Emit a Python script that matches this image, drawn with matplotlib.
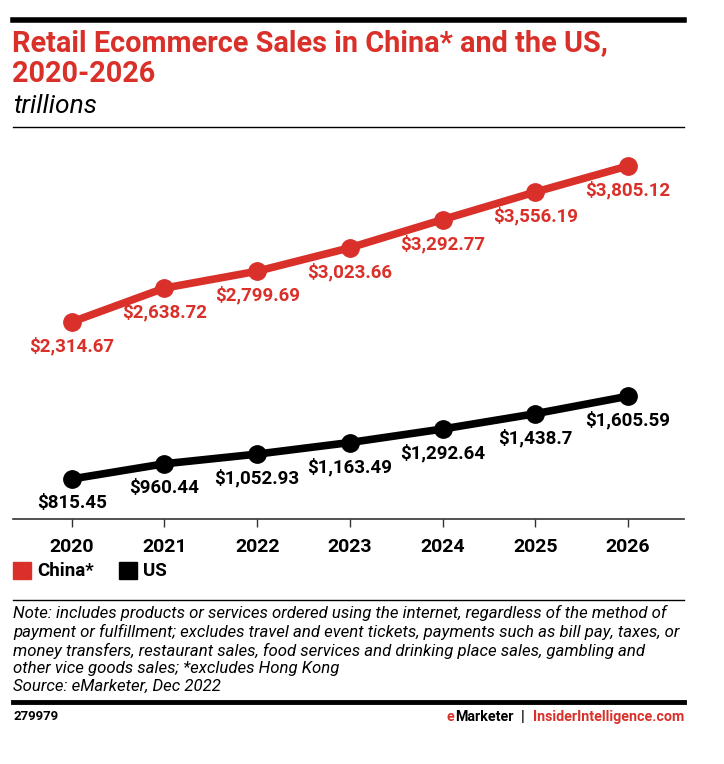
import matplotlib.pyplot as plt
from matplotlib.lines import Line2D
from matplotlib.patches import Rectangle

# данные
years = [2020, 2021, 2022, 2023, 2024, 2025, 2026]
china = [2314.67, 2638.72, 2799.69, 3023.66, 3292.77, 3556.19, 3805.12]
us = [815.45, 960.44, 1052.93, 1163.49, 1292.64, 1438.7, 1605.59]
china_labels = ['$2,314.67', '$2,638.72', '$2,799.69', '$3,023.66', '$3,292.77', '$3,556.19', '$3,805.12']
us_labels = ['$815.45', '$960.44', '$1,052.93', '$1,163.49', '$1,292.64', '$1,438.7', '$1,605.59']
series_names = ['China*', 'US']

RED = '#d9302a'
BLACK = '#000000'
W, H = 724, 764

plt.rcParams['font.family'] = ['Roboto', 'DejaVu Sans']

fig = plt.figure(figsize=(W / 100, H / 100), dpi=100)
fig.patch.set_facecolor('white')


def fx(px):
    return px / W


def fy(py):
    return 1 - py / H


# оси: x от 13 до 684 px, y от 135 до 519 px
ax = fig.add_axes([fx(13), fy(519), fx(684) - fx(13), fy(135) - fy(519)])
ax.set_xlim(2019.367, 2026.604)
ax.set_ylim(433, 4101)

for vals, labels, color in [(china, china_labels, RED), (us, us_labels, BLACK)]:
    ax.plot(years, vals, color=color, linewidth=5.5, marker='o', markersize=12.5,
            solid_capstyle='round', zorder=3, clip_on=False)
    for x, v, lab in zip(years, vals, labels):
        ax.annotate(lab, (x, v), xytext=(0, -17.5), textcoords='offset points',
                    ha='center', va='center', fontsize=13.5, fontweight='bold', color=color)

for s in ['top', 'right', 'left']:
    ax.spines[s].set_visible(False)
ax.spines['bottom'].set_color('#333333')
ax.spines['bottom'].set_linewidth(1.2)
ax.set_yticks([])
ax.set_xticks(years)
ax.set_xticklabels([str(y) for y in years], fontsize=14, fontweight='bold')
ax.tick_params(axis='x', length=6, width=1, color='#333333', pad=8)

# заголовок
fig.add_artist(Line2D([fx(13), fx(684)], [fy(20), fy(20)], color='black', linewidth=4))
fig.text(fx(12), fy(43), 'Retail Ecommerce Sales in China* and the US,', color=RED,
         fontsize=20.8, fontweight='bold', va='center', ha='left')
fig.text(fx(12), fy(74), '2020-2026', color=RED, fontsize=20.8, fontweight='bold',
         va='center', ha='left')
fig.text(fx(13), fy(106), 'trillions', color='black', fontsize=19, style='italic',
         va='center', ha='left')
fig.add_artist(Line2D([fx(13), fx(684)], [fy(127), fy(127)], color='black', linewidth=1))

# легенда
legend_x = [13, 119]
for name, color, lx in zip(series_names, [RED, BLACK], legend_x):
    fig.add_artist(Rectangle((fx(lx), fy(579)), fx(18), 17 / H, color=color,
                             transform=fig.transFigure))
    fig.text(fx(lx + 24), fy(571), name, fontsize=13.5, fontweight='bold', va='center', ha='left')

# примечание
fig.add_artist(Line2D([fx(13), fx(684)], [fy(600), fy(600)], color='black', linewidth=1))
note = ('Note: includes products or services ordered using the internet, regardless of the method of\n'
        'payment or fulfillment; excludes travel and event tickets, payments such as bill pay, taxes, or\n'
        'money transfers, restaurant sales, food services and drinking place sales, gambling and\n'
        'other vice goods sales; *excludes Hong Kong\n'
        'Source: eMarketer, Dec 2022')
fig.text(fx(13), fy(605), note, fontsize=12.1, style='italic', va='top', ha='left',
         linespacing=1.22)
fig.add_artist(Line2D([fx(13), fx(684)], [fy(702), fy(702)], color='black', linewidth=3.5))
fig.text(fx(13), fy(717), '279979', fontsize=9.5, fontweight='bold', va='center', ha='left')

# подпись справа, собираем справа налево
fig.canvas.draw()
x_right = 684
for txt, color, gap in [('InsiderIntelligence.com', RED, 8), ('|', BLACK, 8),
                        ('Marketer', BLACK, 0), ('e', RED, 0)]:
    t = fig.text(fx(x_right), fy(717), txt, fontsize=10.3, fontweight='bold',
                 color=color, va='center', ha='right')
    bb = t.get_window_extent(renderer=fig.canvas.get_renderer())
    x_right = bb.x0 - gap

fig.savefig('out.png', dpi=100)
